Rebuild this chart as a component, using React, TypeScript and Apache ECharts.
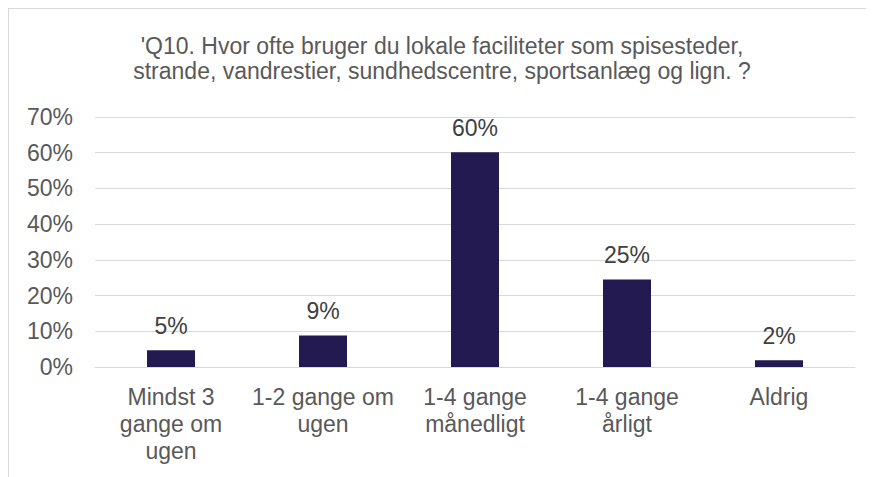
import React, { useEffect, useRef } from "react";
import * as echarts from "echarts";

const categories = [
  "Mindst 3\ngange om\nugen",
  "1-2 gange om\nugen",
  "1-4 gange\nmånedligt",
  "1-4 gange\nårligt",
  "Aldrig",
];
const values = [4.7, 8.8, 60.1, 24.5, 1.9];
const titleText =
  "'Q10. Hvor ofte bruger du lokale faciliteter som spisesteder,\nstrande, vandrestier, sundhedscentre, sportsanlæg og lign. ?";

const FONT = "'Liberation Sans', Arial, sans-serif";

export default function App() {
  const ref = useRef<HTMLDivElement>(null);
  useEffect(() => {
    if (!ref.current) return;
    const chart = echarts.init(ref.current, null, { renderer: "svg" });
    chart.setOption({
      animation: false,
      backgroundColor: "#ffffff",
      title: {
        text: titleText,
        left: 429,
        top: 20,
        textAlign: "center",
        textStyle: {
          fontFamily: FONT,
          fontSize: 23,
          fontWeight: "normal",
          color: "#595959",
          lineHeight: 25,
        },
      },
      graphic: [
        { type: "line", shape: { x1: 0, y1: 0.5, x2: 866, y2: 0.5 }, style: { stroke: "#d9d9d9", lineWidth: 1 } },
        { type: "line", shape: { x1: 0.5, y1: 0, x2: 0.5, y2: 469 }, style: { stroke: "#d9d9d9", lineWidth: 1 } },
      ],
      grid: { left: 87, right: 19, top: 109, bottom: 110 },
      xAxis: {
        type: "category",
        data: categories,
        axisLine: { show: true, lineStyle: { color: "#d9d9d9", width: 1 } },
        axisTick: { show: false },
        axisLabel: {
          fontFamily: FONT,
          fontSize: 23,
          color: "#595959",
          lineHeight: 27,
          margin: 16,
          interval: 0,
        },
      },
      yAxis: {
        type: "value",
        min: 0,
        max: 70,
        interval: 10,
        axisLine: { show: false },
        axisTick: { show: false },
        splitLine: { lineStyle: { color: "#d9d9d9", width: 1 } },
        axisLabel: {
          fontFamily: FONT,
          fontSize: 23,
          color: "#595959",
          margin: 22,
          formatter: (v: number) => `${v}%`,
        },
      },
      series: [
        {
          type: "bar",
          data: values,
          barWidth: 48,
          itemStyle: { color: "#221a50" },
          label: {
            show: true,
            position: "top",
            distance: 13,
            fontFamily: FONT,
            fontSize: 23,
            color: "#404040",
            formatter: (p: any) => `${Math.round(p.value)}%`,
          },
        },
      ],
    });
    return () => chart.dispose();
  }, []);
  return <div ref={ref} style={{ width: 866, height: 469 }} />;
}
